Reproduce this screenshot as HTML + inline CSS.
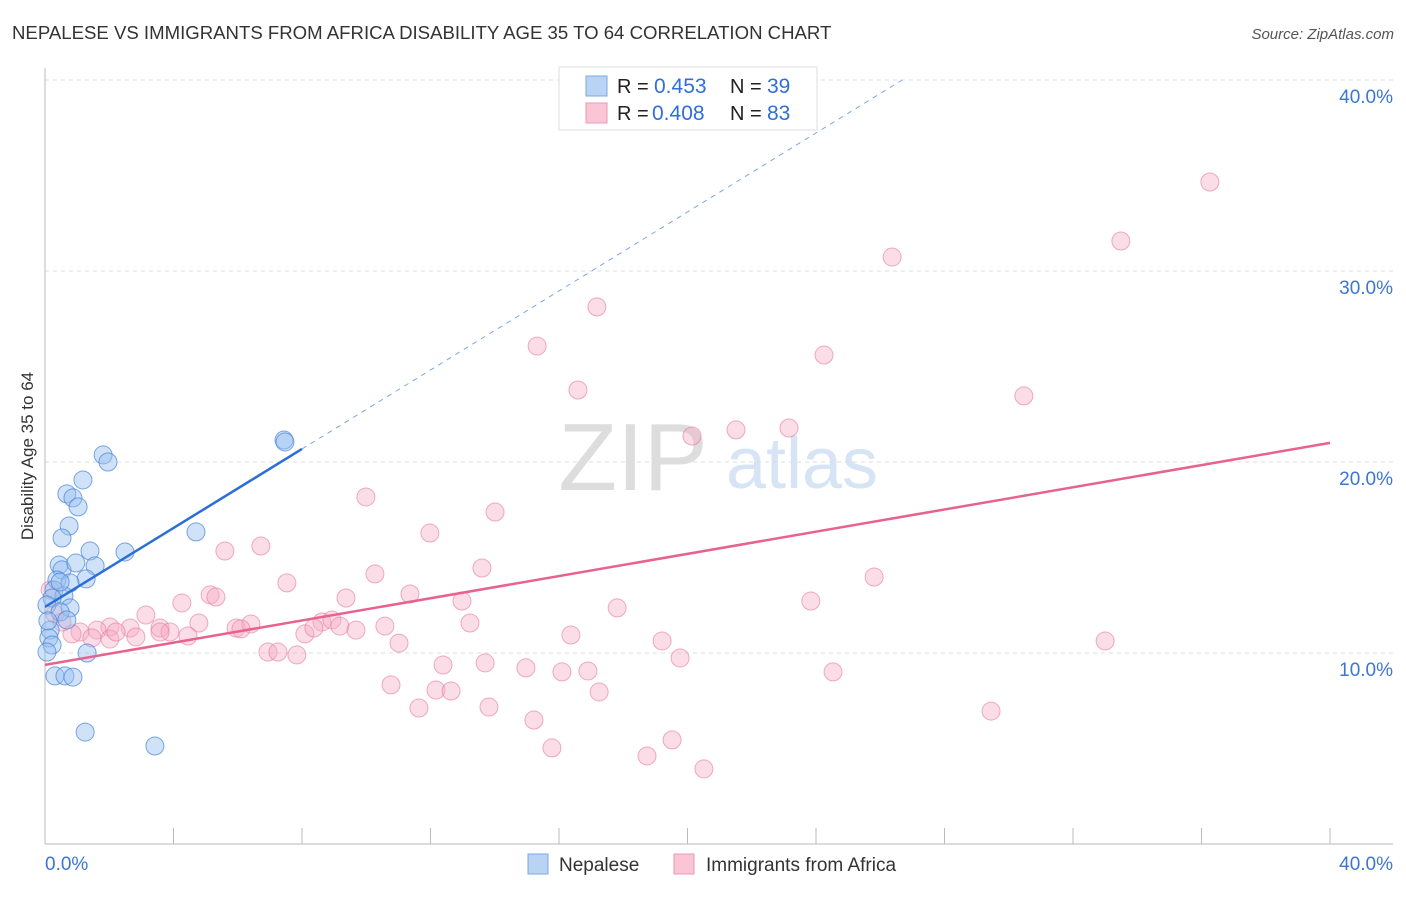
<!DOCTYPE html>
<html><head><meta charset="utf-8"><style>
body{margin:0;background:#fff;font-family:"Liberation Sans",sans-serif;}
svg text{font-family:"Liberation Sans",sans-serif;}
</style></head><body>
<svg id="chart" width="1406" height="892" viewBox="0 0 1406 892" xmlns="http://www.w3.org/2000/svg">
<text x="12" y="39" font-size="18.6" fill="#333">NEPALESE VS IMMIGRANTS FROM AFRICA DISABILITY AGE 35 TO 64 CORRELATION CHART</text>
<text x="1394" y="39" font-size="15" fill="#555" text-anchor="end" font-style="italic">Source: ZipAtlas.com</text>
<g>
<text x="633" y="490" font-size="96" fill="#ddd" font-family="Liberation Serif,serif" text-anchor="middle">ZIP</text>
<text x="802" y="488" font-size="72" fill="#d6e4f5" text-anchor="middle">atlas</text>
</g>
<g id="grid"></g>
<g id="axes"></g>
<g id="points"></g>
<g id="trends"></g>
<text transform="translate(33,456) rotate(-90)" font-size="17" fill="#333" text-anchor="middle">Disability Age 35 to 64</text>
<g>
<rect x="559" y="67" width="258" height="63" fill="#fff" stroke="#ddd"/>
<rect x="586" y="76" width="21" height="20" fill="#b9d3f5" stroke="#7aa7e3"/>
<text x="617" y="93" font-size="20" fill="#222">R = </text><text x="654" y="93" font-size="21" fill="#2f6fd6">0.453</text>
<text x="730" y="93" font-size="20" fill="#222">N = </text><text x="767" y="93" font-size="21" fill="#2f6fd6">39</text>
<rect x="586" y="103" width="21" height="20" fill="#fac6d6" stroke="#ec9ab4"/>
<text x="617" y="120" font-size="20" fill="#222">R = </text><text x="652" y="120" font-size="21" fill="#2f6fd6">0.408</text>
<text x="730" y="120" font-size="20" fill="#222">N = </text><text x="767" y="120" font-size="21" fill="#2f6fd6">83</text>
</g>
<g>
<rect x="528" y="854" width="20" height="20" fill="#b9d3f5" stroke="#7aa7e3"/>
<text x="559" y="871" font-size="19" fill="#333">Nepalese</text>
<rect x="674" y="854" width="20" height="20" fill="#fac6d6" stroke="#ec9ab4"/>
<text x="706" y="871" font-size="19" fill="#333">Immigrants from Africa</text>
</g>
</svg>
<script>
const blueX=[1.81,1.96,1.18,0.68,0.87,1.03,0.75,0.53,1.40,2.49,4.70,7.44,7.47,0.44,0.53,0.96,1.56,1.28,0.37,0.78,0.28,0.59,0.22,0.78,0.06,0.47,0.68,0.16,0.12,0.22,0.06,0.31,0.62,0.87,1.31,1.25,3.42,0.47,0.09];
const blueY=[20.37,20.0,19.06,18.33,18.12,17.65,16.65,16.02,15.34,15.29,16.34,21.15,21.05,14.61,14.35,14.71,14.56,13.88,13.82,13.67,13.30,12.99,12.88,12.36,12.51,12.15,11.73,11.2,10.79,10.42,10.05,8.80,8.80,8.74,10.0,5.86,5.13,13.72,11.68];
const pinkX=[36.26,33.49,26.37,17.18,15.32,24.25,16.59,30.47,20.14,21.51,23.16,9.99,14.01,11.98,6.72,5.60,13.60,7.53,10.27,25.81,5.14,5.32,4.26,3.14,12.98,17.81,23.84,9.37,11.36,4.79,5.95,6.41,6.10,2.02,2.65,3.58,3.89,4.45,2.83,1.62,1.09,0.84,1.46,10.58,13.23,16.37,19.21,33.0,8.09,8.62,8.93,9.18,8.37,9.68,11.02,6.94,7.25,7.84,13.70,12.39,14.97,16.09,16.90,19.77,24.53,10.77,12.17,12.64,17.25,11.64,13.82,15.22,29.45,15.78,19.52,18.74,20.51,2.02,2.21,3.58,0.31,0.53,0.16];
const pinkY=[34.66,31.57,30.73,28.12,26.07,25.60,23.77,23.46,21.36,21.68,21.78,18.17,17.38,16.28,15.60,15.34,14.45,13.67,14.14,13.98,13.04,12.93,12.62,11.99,12.72,12.36,12.72,12.88,13.09,11.57,11.31,11.52,11.26,11.36,11.31,11.31,11.10,10.89,10.84,11.20,11.10,11.0,10.79,11.41,11.57,10.94,10.63,10.63,11.0,11.62,11.73,11.41,11.31,11.20,10.52,10.05,10.05,9.90,9.48,9.37,9.22,9.01,9.06,9.74,9.01,8.33,8.06,8.01,7.96,7.12,7.17,6.49,6.96,5.03,5.45,4.61,3.93,10.73,11.10,11.10,12.04,11.62,13.30];
const blueTrend=[12.41,1.034];
const pinkTrend=[9.38,0.2905];
const yTicks=[10,20,30,40];
const yTickLabels=["10.0%","20.0%","30.0%","40.0%"];
const xTicks=[0,4,8,12,16,20,24,28,32,36,40];
const NS="http://www.w3.org/2000/svg";
const X=v=>45+v/40*1285, Y=v=>844-v*19.1;
function mk(t,a,p){const e=document.createElementNS(NS,t);for(const k in a)e.setAttribute(k,a[k]);document.getElementById(p).appendChild(e);return e;}
yTicks.forEach((t,i)=>{
 const g=mk('line',{x1:45,x2:1393,y1:Y(t),y2:Y(t),stroke:'#ddd','stroke-dasharray':'4,4'},'grid');
 
 
 const l=mk('text',{x:1393,y:Y(t)+23,'font-size':19,fill:'#3b76d4','text-anchor':'end'},'axes');
 l.textContent=yTickLabels[i];
 
 
});
const ax=mk('line',{x1:45,x2:1393,y1:844,y2:844,stroke:'#bbb'},'axes');


const ay=mk('line',{x1:45,x2:45,y1:68,y2:844,stroke:'#bbb'},'axes');


xTicks.forEach(t=>{const e=mk('line',{x1:X(t),x2:X(t),y1:828,y2:844,stroke:'#bbb'},'axes');
 
 });
const x0=mk('text',{x:45,y:870,'font-size':19,fill:'#3b76d4'},'axes');x0.textContent='0.0%';


const x1=mk('text',{x:1393,y:870,'font-size':19,fill:'#3b76d4','text-anchor':'end'},'axes');x1.textContent='40.0%';


pinkX.forEach((v,i)=>{const c=mk('circle',{cx:X(v),cy:Y(pinkY[i]),r:9,fill:'rgba(246,170,195,0.4)',stroke:'rgba(230,120,155,0.6)','stroke-width':1},'points');
 
 });
blueX.forEach((v,i)=>{const c=mk('circle',{cx:X(v),cy:Y(blueY[i]),r:9,fill:'rgba(150,190,240,0.45)',stroke:'rgba(70,130,215,0.7)','stroke-width':1},'points');
 
 });
const bEnd=(40-blueTrend[0])/blueTrend[1];
const bd=mk('line',{x1:X(8),y1:Y(blueTrend[0]+blueTrend[1]*8),x2:X(bEnd),y2:Y(40),stroke:'#7aa7e3','stroke-dasharray':'5,5','stroke-width':1},'trends');


const bl=mk('line',{x1:X(0),y1:Y(blueTrend[0]),x2:X(8),y2:Y(blueTrend[0]+blueTrend[1]*8),stroke:'#2a6fd6','stroke-width':2.5},'trends');


const pl=mk('line',{x1:X(0),y1:Y(pinkTrend[0]),x2:X(40),y2:Y(pinkTrend[0]+pinkTrend[1]*40),stroke:'#e8628e','stroke-width':2.5},'trends');


</script>
</body></html>
